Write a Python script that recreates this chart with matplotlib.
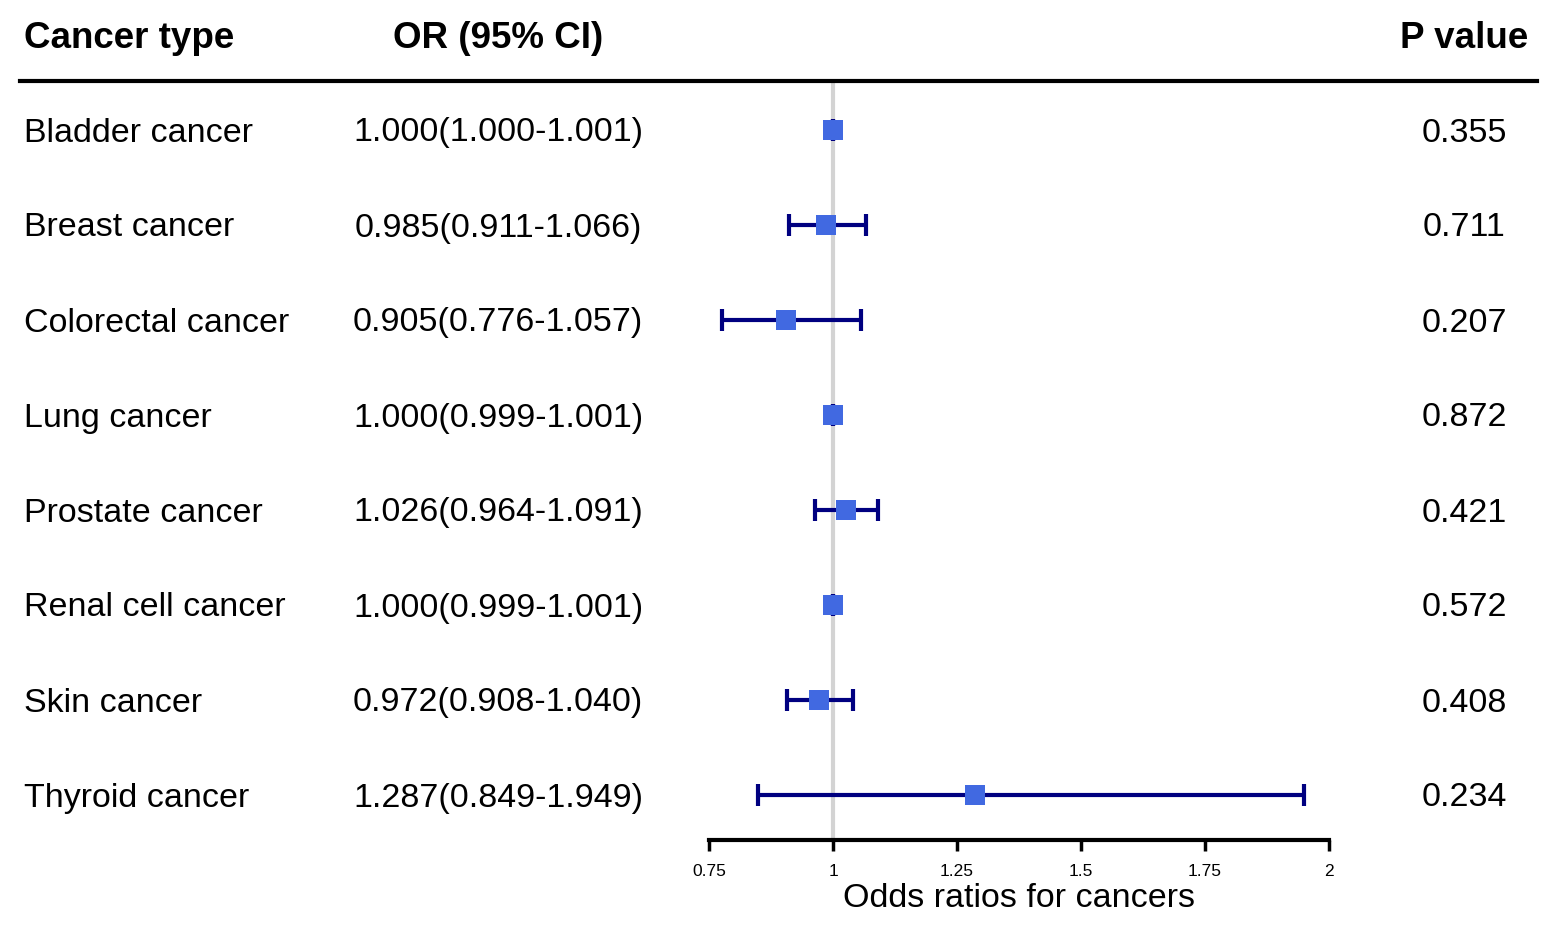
import matplotlib.pyplot as plt

# Data
cancers = ['Bladder cancer', 'Breast cancer', 'Colorectal cancer', 'Lung cancer',
           'Prostate cancer', 'Renal cell cancer', 'Skin cancer', 'Thyroid cancer']
odds = [1.000, 0.985, 0.905, 1.000, 1.026, 1.000, 0.972, 1.287]
lower = [1.000, 0.911, 0.776, 0.999, 0.964, 0.999, 0.908, 0.849]
upper = [1.001, 1.066, 1.057, 1.001, 1.091, 1.001, 1.040, 1.949]
pvals = ['0.355', '0.711', '0.207', '0.872', '0.421', '0.572', '0.408', '0.234']
xticks = [0.75, 1, 1.25, 1.5, 1.75, 2]
xticklabels = ['0.75', '1', '1.25', '1.5', '1.75', '2']

plt.rcParams['font.family'] = ['Liberation Sans', 'DejaVu Sans']

W, H = 1559, 933
fig = plt.figure(figsize=(W / 100, H / 100), dpi=100)

# forest plot axes (pixel box: x 709-1329, y 81-840)
ax = fig.add_axes([709 / W, 1 - 840 / H, 620 / W, (840 - 81) / H])
rows = list(range(len(cancers)))
row_px = 95.0
ax.set_ylim((840 - 130) / row_px, -(130 - 81) / row_px)
ax.set_xlim(0.75, 2)

ax.axvline(1, color='#d3d3d3', lw=3, zorder=1)
xerr = [[o - l for o, l in zip(odds, lower)], [u - o for o, u in zip(odds, upper)]]
ax.errorbar(odds, rows, xerr=xerr, fmt='none', ecolor='#000080', elinewidth=3,
            capsize=8, capthick=3, zorder=2)
ax.scatter(odds, rows, marker='s', s=15 ** 2, color='#4169e1', zorder=3, linewidths=0)

for s in ['top', 'right', 'left']:
    ax.spines[s].set_visible(False)
ax.spines['bottom'].set_linewidth(3)
ax.set_yticks([])
ax.set_xticks(xticks)
ax.set_xticklabels(xticklabels, fontsize=12.5)
ax.tick_params(axis='x', length=8, width=2.5, pad=9)
ax.set_xlabel('Odds ratios for cancers', fontsize=24.5, labelpad=3)

# header
hy = 1 - 38 / H
fig.text(24 / W, hy, 'Cancer type', fontsize=26.5, fontweight='bold',
         ha='left', va='center')
fig.text(498 / W, hy, 'OR (95% CI)', fontsize=26.5, fontweight='bold',
         ha='center', va='center')
fig.text(1464 / W, hy, 'P value', fontsize=26.5, fontweight='bold',
         ha='center', va='center')
fig.add_artist(plt.Line2D([20 / W, 1537 / W], [1 - 81 / H, 1 - 81 / H],
                          color='black', lw=3))

# table text
for i, name in enumerate(cancers):
    y = 1 - (133 + i * row_px) / H
    fig.text(24 / W, y, name, fontsize=24.5, ha='left', va='center')
    fig.text(498 / W, y, '%.3f(%.3f-%.3f)' % (odds[i], lower[i], upper[i]),
             fontsize=24.5, ha='center', va='center')
    fig.text(1464 / W, y, pvals[i], fontsize=24.5, ha='center', va='center')

fig.savefig('out.png', dpi=100)
